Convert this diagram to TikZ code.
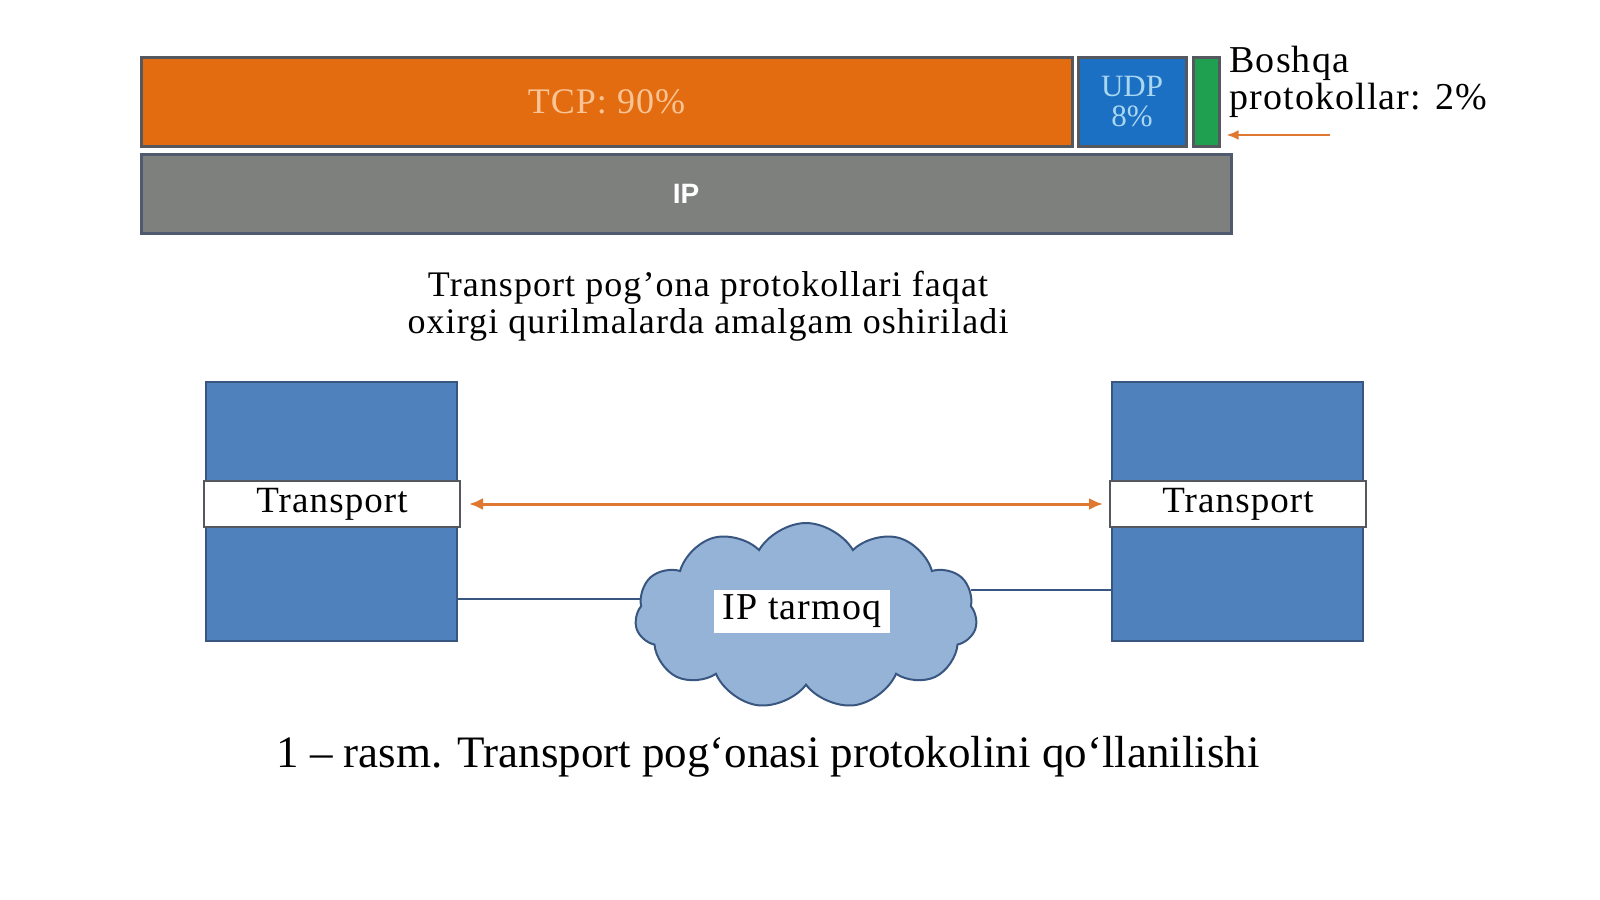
\documentclass[tikz,border=0pt]{standalone}
\usepackage{fontspec}
\setmainfont{Liberation Serif}
\setsansfont{Liberation Sans}
\newfontfamily\spaced[LetterSpace=3]{Liberation Serif}
\usetikzlibrary{shapes.symbols,arrows.meta,positioning}

\definecolor{tcporange}{RGB}{228,108,16}
\definecolor{tcptext}{RGB}{248,196,150}
\definecolor{udpblue}{RGB}{27,112,196}
\definecolor{udptext}{RGB}{170,215,240}
\definecolor{othergreen}{RGB}{30,160,80}
\definecolor{barline}{RGB}{85,88,95}
\definecolor{ipgray}{RGB}{125,128,125}
\definecolor{ipline}{RGB}{80,90,110}
\definecolor{hostblue}{RGB}{79,129,189}
\definecolor{hostline}{RGB}{56,86,128}
\definecolor{cloudblue}{RGB}{149,179,215}
\definecolor{arroworange}{RGB}{224,120,50}

\tikzset{
  bar/.style={draw=barline, line width=1.5pt, inner sep=0pt, minimum height=44pt},
  host/.style={draw=hostline, fill=hostblue, line width=1pt,
    minimum width=125.5pt, minimum height=129.5pt},
  layer/.style={draw=barline, fill=white, line width=1pt, inner sep=0pt,
    minimum width=128pt, minimum height=23pt, font=\spaced\fontsize{18.5}{22}\selectfont},
  link/.style={draw=hostline, line width=1pt},
  flow/.style={draw=arroworange, line width=1.5pt}
}

\begin{document}
\begin{tikzpicture}[x=0.5pt,y=-0.5pt]
  \useasboundingbox[fill=white] (0,0) rectangle (1600,899);

  % protocol bars
  \node[bar, fill=tcporange, minimum width=465.5pt, text=tcptext,
    font=\spaced\fontsize{18}{20}\selectfont] (tcp) at (606.5,102) {TCP: 90\%};
  \node[bar, fill=udpblue, minimum width=54pt, align=center, text=udptext,
    font=\fontsize{15.5}{15}\selectfont] (udp) at (1132,102) {UDP\\8\%};
  \node[bar, fill=othergreen, minimum width=13pt] (other) at (1206,102) {};
  \node[bar, draw=ipline, fill=ipgray, minimum width=545pt, minimum height=39.5pt,
    text=white, font=\sffamily\bfseries\fontsize{14}{16}\selectfont] (ip) at (686,193.5) {IP};

  \node[anchor=north west, align=left, inner sep=0pt,
    font=\spaced\fontsize{19}{18.5}\selectfont] (otherlbl) at (1229,46) {Boshqa\\protokollar: 2\%};
  \coordinate (otherfrom) at (1330,135);
  \draw[flow, line width=1.2pt, -{Latex[length=6pt,width=5pt]}, shorten >=3pt]
    (otherfrom) -- (other.east |- otherfrom);

  \node[align=center, font=\spaced\fontsize{18}{18.5}\selectfont] (note) at (708,306)
    {Transport pog’ona protokollari faqat\\oxirgi qurilmalarda amalgam oshiriladi};

  % end hosts
  \node[host] (lhost) at (331.5,511.5) {};
  \node[layer] (llayer) at (332,504) {Transport};
  \node[host] (rhost) at (1237.5,511.5) {};
  \node[layer] (rlayer) at (1238,504) {Transport};

  \draw[flow, {Latex[length=7pt,width=6pt]}-{Latex[length=7pt,width=6pt]},
    shorten <=4pt, shorten >=3pt] (llayer.east) -- (rlayer.west);

  % network
  \node[cloud, cloud puffs=11, cloud puff arc=120, aspect=1.8, draw=hostline,
    fill=cloudblue, line width=1pt, minimum width=171pt, minimum height=93pt]
    (cloud) at (806,616) {};
  \node[fill=white, inner sep=0pt, minimum width=88pt, minimum height=21.5pt,
    font=\spaced\fontsize{19}{20}\selectfont] (cloudlbl) at (802,611.5) {IP tarmoq};
  \draw[link] (cloud.174) -- (cloud.174 -| lhost.east);
  \draw[link] (cloud.9) -- (cloud.9 -| rhost.west);

  \node[font=\fontsize{22.5}{26}\selectfont] (caption) at (768,757)
    {1 – rasm. Transport pog‘onasi protokolini qo‘llanilishi};
\end{tikzpicture}
\end{document}
